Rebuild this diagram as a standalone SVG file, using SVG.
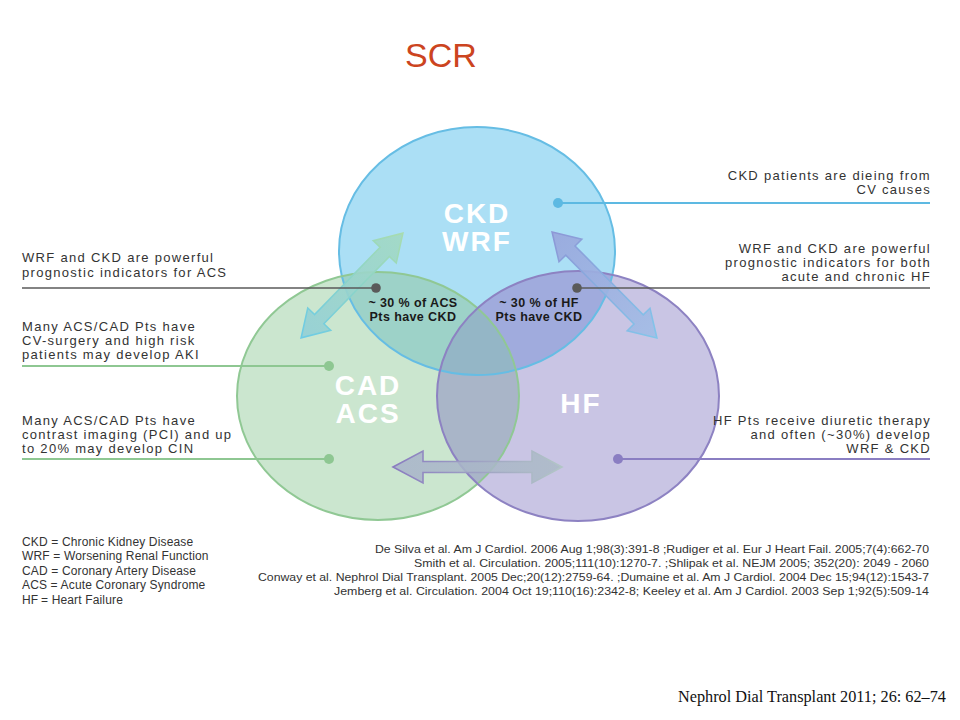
<svg xmlns="http://www.w3.org/2000/svg" width="960" height="720" viewBox="0 0 960 720">
<style>
.big{font-family:"Liberation Sans",Arial,sans-serif;font-size:28px;font-weight:bold;letter-spacing:2px;fill:#ffffff;text-anchor:middle}
.pct{font-family:"Liberation Sans",Arial,sans-serif;font-size:12.5px;font-weight:bold;letter-spacing:0.4px;fill:#1a1a1a;text-anchor:middle}
.note{font-family:"Liberation Sans",Arial,sans-serif;font-size:13px;letter-spacing:1.3px;fill:#333333}
.r{text-anchor:end}
.leg{font-family:"Liberation Sans",Arial,sans-serif;font-size:12px;letter-spacing:0.15px;fill:#333333}
.ref{font-family:"Liberation Sans",Arial,sans-serif;font-size:11.5px;fill:#333333}
.gray{stroke:#5a5a5a;stroke-width:1.6;fill:none}
.blue{stroke:#5db9e2;stroke-width:2;fill:none}
.green{stroke:#8ec792;stroke-width:2;fill:none}
.purple{stroke:#8a7ec2;stroke-width:2;fill:none}
.edge{fill:none;stroke-width:2}
</style>
<defs>
<clipPath id="cCKD"><ellipse cx="477" cy="251" rx="138" ry="124"/></clipPath>
<clipPath id="cCAD"><ellipse cx="378" cy="396" rx="141" ry="124"/></clipPath>
<linearGradient id="gA" x1="0" y1="0" x2="1" y2="0"><stop offset="0" stop-color="#92cfd6"/><stop offset="1" stop-color="#a2d9c2"/></linearGradient>
<linearGradient id="gAs" x1="0" y1="0" x2="1" y2="0"><stop offset="0" stop-color="#6ccbe6"/><stop offset="1" stop-color="#a8dcae"/></linearGradient>
<linearGradient id="gB" x1="0" y1="0" x2="1" y2="0"><stop offset="0" stop-color="#98a6dc"/><stop offset="1" stop-color="#a2bde6"/></linearGradient>
<linearGradient id="gBs" x1="0" y1="0" x2="1" y2="0"><stop offset="0" stop-color="#8d97d6"/><stop offset="1" stop-color="#82c6ea"/></linearGradient>
<linearGradient id="gC" x1="0" y1="0" x2="1" y2="0"><stop offset="0" stop-color="#a8b3ca"/><stop offset="1" stop-color="#abbac6"/></linearGradient>
<linearGradient id="gCs" x1="0" y1="0" x2="1" y2="0"><stop offset="0" stop-color="#8a7cc0"/><stop offset="1" stop-color="#b2c6c6"/></linearGradient>
</defs>
<rect width="960" height="720" fill="#ffffff"/>

<text x="405" y="67" font-family="Liberation Sans, Arial, sans-serif" font-size="34" fill="#cc4420">SCR</text>

<g id="circles">
  <g id="node-ckd">
    <ellipse cx="477" cy="251" rx="138" ry="124" fill="#abdff5"/>
  </g>
  <g id="node-cad">
    <ellipse cx="378" cy="396" rx="141" ry="124" fill="#cbe6cf"/>
  </g>
  <g id="node-hf">
    <ellipse cx="578" cy="396" rx="141" ry="125" fill="#c9c5e4"/>
  </g>
  <g id="overlaps">
    <ellipse clip-path="url(#cCKD)" cx="378" cy="396" rx="141" ry="124" fill="#9dd2c8"/>
    <ellipse clip-path="url(#cCKD)" cx="578" cy="396" rx="141" ry="125" fill="#a0abdd"/>
    <ellipse clip-path="url(#cCAD)" cx="578" cy="396" rx="141" ry="125" fill="#a9b5c8"/>
    <g clip-path="url(#cCKD)">
      <ellipse clip-path="url(#cCAD)" cx="578" cy="396" rx="141" ry="125" fill="#94b6c6"/>
    </g>
  </g>
  <g id="edges">
    <ellipse class="edge" cx="477" cy="251" rx="138" ry="124" stroke="#66bde4"/>
    <ellipse class="edge" cx="378" cy="396" rx="141" ry="124" stroke="#90c894"/>
    <ellipse class="edge" cx="578" cy="396" rx="141" ry="125" stroke="#8d82c2"/>
  </g>
</g>

<g id="arrows">
  <polygon transform="translate(352 285.5) rotate(-45.8)" points="-73,0 -47,-16 -47,-6.5 47,-6.5 47,-16 73,0 47,16 47,6.5 -47,6.5 -47,16" fill="url(#gA)" fill-opacity="0.9" stroke="url(#gAs)" stroke-width="1.6"/>
  <polygon transform="translate(604.5 285) rotate(45.3)" points="-74.5,0 -48.5,-16 -48.5,-6.5 48.5,-6.5 48.5,-16 74.5,0 48.5,16 48.5,6.5 -48.5,6.5 -48.5,16" fill="url(#gB)" fill-opacity="0.9" stroke="url(#gBs)" stroke-width="1.6"/>
  <polygon points="393,467 423,451 423,461.5 532,461.5 532,451 562,467 532,483 532,472.5 423,472.5 423,483" fill="url(#gC)" fill-opacity="0.85" stroke="url(#gCs)" stroke-width="1.6"/>
</g>

<g id="labels">
  <g id="label-ckd">
    <text class="big" x="477" y="223">CKD</text>
    <text class="big" x="477" y="251">WRF</text>
  </g>
  <g id="label-cad">
    <text class="big" x="368" y="395">CAD</text>
    <text class="big" x="368" y="423">ACS</text>
  </g>
  <g id="label-hf">
    <text class="big" x="581" y="413">HF</text>
  </g>
  <g id="overlap-ckd-cad">
    <text class="pct" x="413" y="307">~ 30 % of ACS</text>
    <text class="pct" x="413" y="321">Pts have CKD</text>
  </g>
  <g id="overlap-ckd-hf">
    <text class="pct" x="539" y="307">~ 30 % of HF</text>
    <text class="pct" x="539" y="321">Pts have CKD</text>
  </g>
</g>

<g id="connectors">
  <line class="gray" x1="22" y1="288" x2="376" y2="288"/>
  <circle cx="376" cy="288" r="4.8" fill="#5a5a5a"/>
  <line class="gray" x1="577" y1="288" x2="930" y2="288"/>
  <circle cx="577" cy="288" r="4.8" fill="#5a5a5a"/>
  <line class="blue" x1="558" y1="203" x2="930" y2="203"/>
  <circle cx="558" cy="203" r="5" fill="#5db9e2"/>
  <line class="green" x1="22" y1="366" x2="329" y2="366"/>
  <circle cx="329" cy="366" r="5" fill="#8ec792"/>
  <line class="green" x1="22" y1="459" x2="329" y2="459"/>
  <circle cx="329" cy="459" r="5" fill="#8ec792"/>
  <line class="purple" x1="618" y1="459" x2="930" y2="459"/>
  <circle cx="618" cy="459" r="5" fill="#8a7ec2"/>
</g>

<g id="notes">
  <text class="note" x="22" y="262">WRF and CKD are powerful</text>
  <text class="note" x="22" y="277">prognostic indicators for ACS</text>
  <text class="note" x="22" y="331">Many ACS/CAD Pts have</text>
  <text class="note" x="22" y="345">CV-surgery and high risk</text>
  <text class="note" x="22" y="359">patients may develop AKI</text>
  <text class="note" x="22" y="425">Many ACS/CAD Pts have</text>
  <text class="note" x="22" y="439">contrast imaging (PCI) and up</text>
  <text class="note" x="22" y="453">to 20% may develop CIN</text>
  <text class="note r" x="931" y="180">CKD patients are dieing from</text>
  <text class="note r" x="931" y="194">CV causes</text>
  <text class="note r" x="931" y="253">WRF and CKD are powerful</text>
  <text class="note r" x="931" y="267">prognostic indicators for both</text>
  <text class="note r" x="931" y="281">acute and chronic HF</text>
  <text class="note r" x="931" y="425">HF Pts receive diuretic therapy</text>
  <text class="note r" x="931" y="439">and often (~30%) develop</text>
  <text class="note r" x="931" y="453">WRF &amp; CKD</text>
</g>

<g id="legend">
  <text class="leg" x="22" y="546">CKD = Chronic Kidney Disease</text>
  <text class="leg" x="22" y="560">WRF = Worsening Renal Function</text>
  <text class="leg" x="22" y="575">CAD = Coronary Artery Disease</text>
  <text class="leg" x="22" y="589">ACS = Acute Coronary Syndrome</text>
  <text class="leg" x="22" y="604">HF</text>
  <text class="leg" x="41" y="604">= Heart Failure</text>
</g>

<g id="references">
  <text class="ref" x="375" y="553" textLength="554" lengthAdjust="spacingAndGlyphs">De Silva et al. Am J Cardiol. 2006 Aug 1;98(3):391-8 ;Rudiger et al. Eur J Heart Fail. 2005;7(4):662-70</text>
  <text class="ref" x="414" y="567" textLength="515" lengthAdjust="spacingAndGlyphs">Smith et al. Circulation. 2005;111(10):1270-7. ;Shlipak et al. NEJM 2005; 352(20): 2049 - 2060</text>
  <text class="ref" x="258" y="581" textLength="671" lengthAdjust="spacingAndGlyphs">Conway et al. Nephrol Dial Transplant. 2005 Dec;20(12):2759-64. ;Dumaine et al. Am J Cardiol. 2004 Dec 15;94(12):1543-7</text>
  <text class="ref" x="334" y="595" textLength="595" lengthAdjust="spacingAndGlyphs">Jemberg et al. Circulation. 2004 Oct 19;110(16):2342-8; Keeley et al. Am J Cardiol. 2003 Sep 1;92(5):509-14</text>
</g>

<text x="678" y="702" font-family="Liberation Serif, Times New Roman, serif" font-size="17" fill="#111111" textLength="268" lengthAdjust="spacingAndGlyphs">Nephrol Dial Transplant 2011; 26: 62–74</text>
</svg>
